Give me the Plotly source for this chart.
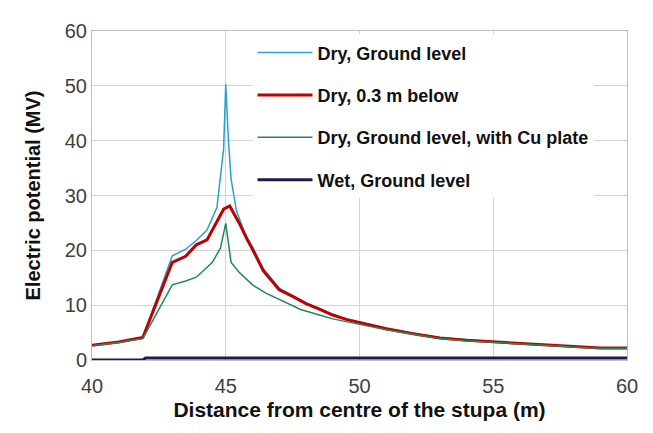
import plotly.graph_objects as go

# Distance from centre of the stupa (m) and electric potential (MV)
x_dry_ground = [40, 41, 41.9, 43, 43.5, 43.9, 44.3, 44.67, 44.92, 45.0, 45.1, 45.2, 45.4, 45.7, 46, 46.4, 47, 47.5, 48, 48.5, 49, 49.5, 50, 51, 52, 53, 54, 55, 56, 57, 58, 59, 60]
y_dry_ground = [2.7, 3.3, 4.1, 19.0, 20.2, 21.8, 23.7, 27.8, 38.5, 50.3, 40.0, 33.0, 27.2, 23.3, 20.6, 16.7, 13.1, 11.8, 10.4, 9.4, 8.3, 7.5, 6.9, 5.8, 4.9, 4.1, 3.7, 3.3, 3.0, 2.7, 2.4, 2.2, 2.2]

x_dry_below = [40, 41, 41.9, 43, 43.5, 43.9, 44.3, 44.67, 44.92, 45.15, 45.5, 45.8, 46, 46.4, 47, 47.5, 48, 48.5, 49, 49.5, 50, 51, 52, 53, 54, 55, 56, 57, 58, 59, 60]
y_dry_below = [2.7, 3.3, 4.1, 17.8, 18.9, 21.0, 21.9, 25.4, 27.5, 28.1, 25.0, 22.0, 20.2, 16.3, 12.8, 11.6, 10.3, 9.3, 8.2, 7.4, 6.8, 5.7, 4.8, 4.0, 3.6, 3.3, 3.0, 2.7, 2.4, 2.2, 2.2]

x_dry_cu = [40, 41, 41.9, 43, 43.5, 43.9, 44.5, 44.8, 45.0, 45.2, 45.5, 46, 46.5, 47, 47.8, 48.5, 49, 50, 51, 52, 53, 54, 55, 56, 57, 58, 59, 60]
y_dry_cu = [2.6, 3.2, 3.9, 13.7, 14.4, 15.1, 17.8, 20.4, 24.9, 17.8, 16.0, 13.7, 12.2, 11.0, 9.2, 8.2, 7.5, 6.5, 5.5, 4.7, 3.9, 3.5, 3.2, 2.9, 2.6, 2.3, 2.1, 2.1]

x_wet = [40, 41.9, 42, 60]
y_wet = [0.0, 0.0, 0.35, 0.35]

series = [
    ("Dry, Ground level", x_dry_ground, y_dry_ground, "#2b9fd3", 1.5),
    ("Dry, 0.3 m below", x_dry_below, y_dry_below, "#c00000", 3),
    ("Dry, Ground level, with Cu plate", x_dry_cu, y_dry_cu, "#1e8a55", 1.5),
    ("Wet, Ground level", x_wet, y_wet, "#1c1c50", 3),
]

fig = go.Figure()
for i, (name, xs, ys, color, w) in enumerate(series):
    fig.add_trace(go.Scatter(x=xs, y=ys, mode="lines", name=name,
                             legendgroup=f"g{i}",
                             line=dict(color=color, width=w)))

# page body has an 8px margin: shrink the figure so the plot lands in place
fig.update_layout(
    width=645, height=425,
    margin=dict(l=84, r=26, t=14, b=73),
    paper_bgcolor="white", plot_bgcolor="white",
    font=dict(family="Liberation Sans, Arial, sans-serif", color="#333333"),
    legend=dict(x=0.30, y=0.99, xanchor="left", yanchor="top",
                bgcolor="white", tracegroupgap=16, itemwidth=55,
                font=dict(size=18, color="#111111", weight="bold"),
                traceorder="grouped"),
    showlegend=True,
)
fig.update_xaxes(range=[40, 60], tickvals=[40, 45, 50, 55, 60],
                 showgrid=True, gridcolor="#d4d4d4", gridwidth=1,
                 showline=True, linecolor="#bfbfbf", mirror=True,
                 zeroline=False, ticks="", ticklabelstandoff=8,
                 tickfont=dict(size=20, color="#404040"),
                 title=dict(text="<b>Distance from centre of the stupa (m)</b>",
                            font=dict(size=21, color="#111111"), standoff=6))
fig.update_yaxes(range=[0, 60], tickvals=[0, 10, 20, 30, 40, 50, 60],
                 showgrid=True, gridcolor="#d4d4d4", gridwidth=1,
                 showline=True, linecolor="#bfbfbf", mirror=True,
                 zeroline=False, ticks="",
                 tickfont=dict(size=20, color="#404040"),
                 title=dict(text="<b>Electric potential (MV)</b>",
                            font=dict(size=20, color="#111111"), standoff=18))

fig.write_html("out.html")
